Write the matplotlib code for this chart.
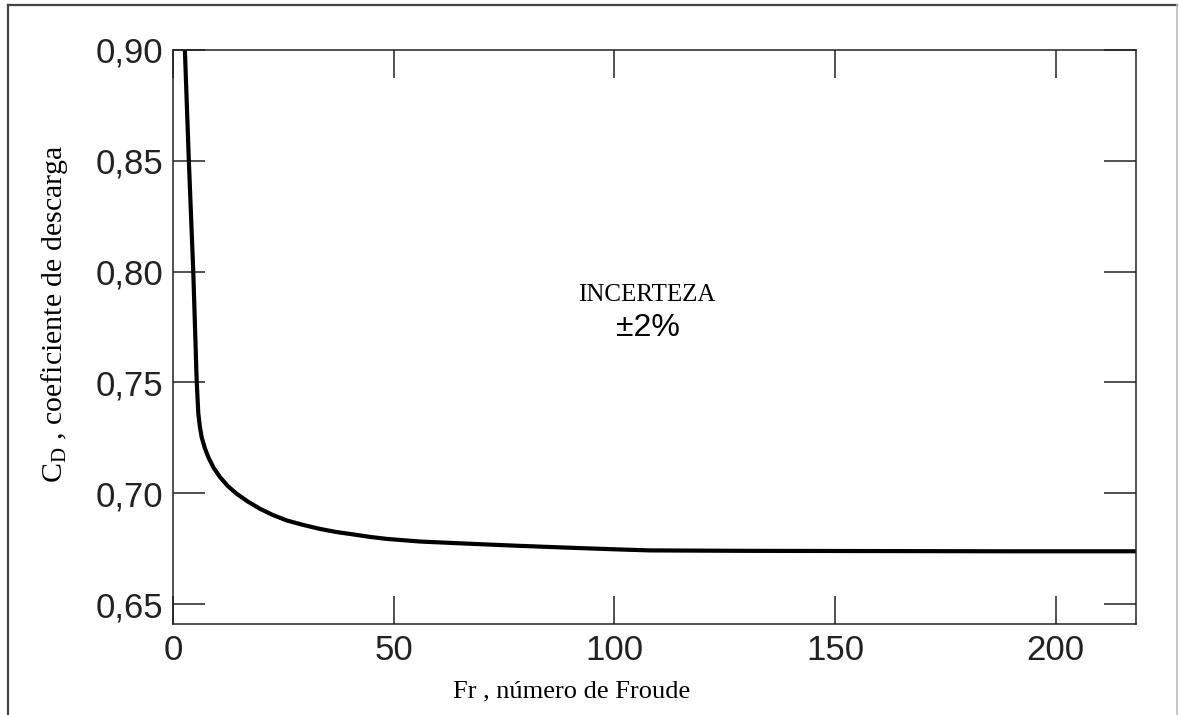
import matplotlib

matplotlib.use("Agg")
import matplotlib.pyplot as plt

plt.rcParams["mathtext.fontset"] = "custom"
plt.rcParams["mathtext.rm"] = "Liberation Serif"

# discharge coefficient vs Froude number
froude = [2.4, 2.7, 3.6, 4.6, 5.37, 5.74, 6.1, 6.5, 7.2, 8.0, 9.2, 10.65, 12.4, 14.4, 17.0,
          19.7, 22.6, 25.8, 29.5, 33.3, 37.0, 40.9, 44.6, 48.4, 56.0, 67.3, 78.0, 90.0,
          100.0, 108.0, 130.0, 160.0, 190.0, 218.0]
cd = [0.905, 0.900, 0.850, 0.800, 0.751, 0.736, 0.730, 0.7253, 0.7205, 0.7163, 0.7115, 0.7073,
      0.7033, 0.6998, 0.6962, 0.6930, 0.6902, 0.6877, 0.6857, 0.6839, 0.6825, 0.6814, 0.6803,
      0.6794, 0.6782, 0.6772, 0.6763, 0.6754, 0.6747, 0.6742, 0.6740, 0.6739, 0.6738, 0.6738]

x_ticks = [0, 50, 100, 150, 200]
x_tick_labels = ["0", "50", "100", "150", "200"]
y_ticks = [0.65, 0.70, 0.75, 0.80, 0.85, 0.90]
y_tick_labels = ["0,65", "0,70", "0,75", "0,80", "0,85", "0,90"]

SERIF = "Liberation Serif"
SANS = "Liberation Sans"

fig = plt.figure(figsize=(11.79, 7.15), dpi=100)
ax = fig.add_axes([0.1467, 0.1273, 0.8168, 0.8028])

# outer frame around the whole figure
fig.add_artist(plt.Line2D([0.0068, 0.0068], [0.0, 0.993], transform=fig.transFigure,
                          color="#444444", lw=1.6))
fig.add_artist(plt.Line2D([0.0068, 0.9985], [0.993, 0.993], transform=fig.transFigure,
                          color="#444444", lw=1.6))
fig.add_artist(plt.Line2D([0.9985, 0.9985], [0.0, 0.993], transform=fig.transFigure,
                          color="#bbbbbb", lw=1.2))

ax.plot(froude, cd, color="black", lw=3.0, solid_joinstyle="round")

ax.set_xlim(0, 218.2)
ax.set_ylim(0.641, 0.90)
ax.set_xticks(x_ticks, x_tick_labels)
ax.set_yticks(y_ticks, y_tick_labels)
ax.tick_params(axis="both", direction="in", top=True, right=True, width=1.1,
               colors="#222222", labelsize=25, pad=7)
ax.tick_params(axis="x", length=20)
ax.tick_params(axis="y", length=23)
for label in ax.get_xticklabels() + ax.get_yticklabels():
    label.set_fontfamily(SANS)
for spine in ax.spines.values():
    spine.set_linewidth(1.1)
    spine.set_color("#222222")

ax.set_xlabel("Fr , número de Froude", fontfamily=SERIF, fontsize=19, labelpad=10, x=0.414)
ax.set_ylabel(r"$\mathregular{C_D}$ , coeficiente de descarga", fontfamily=SERIF,
              fontsize=21.5, labelpad=18, y=0.54)

ax.text(107.3, 0.7895, "INCERTEZA", fontsize=18, fontfamily=SERIF, ha="center", va="center")
ax.text(107.7, 0.7745, "±2%", fontsize=23, fontfamily=SANS, ha="center", va="center")

fig.savefig("out.png", dpi=100)
